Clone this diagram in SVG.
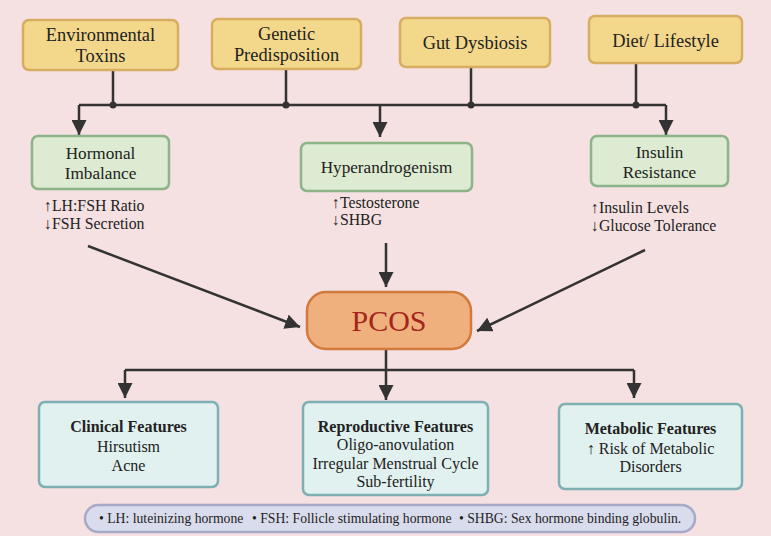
<svg xmlns="http://www.w3.org/2000/svg" width="771" height="536" viewBox="0 0 771 536">
<defs>
<marker id="ah" viewBox="0 0 10 10" refX="10" refY="5" markerWidth="6" markerHeight="6" orient="auto" markerUnits="strokeWidth">
<path d="M0,0 L10,5 L0,10 z" fill="#333"/>
</marker>
<style>
text{font-family:"Liberation Serif","DejaVu Serif",serif;fill:#222;text-anchor:middle}
.top rect{fill:#f3d88b;stroke:#d6ad62;stroke-width:2.5}
.mid rect{fill:#dcebd1;stroke:#8db489;stroke-width:2.5}
.bot rect{fill:#e1f1ef;stroke:#7eb0b3;stroke-width:2.5}
.t17{font-size:18.4px}
.t16{font-size:17.2px}
.sub{font-size:15.8px;text-anchor:start}
.h{font-size:16px;font-weight:bold}
.b{font-size:16px}
.lg{font-size:13.7px;text-anchor:start}
.ln{fill:none;stroke:#333;stroke-width:2.5}
.ar{fill:none;stroke:#333;stroke-width:2.5;marker-end:url(#ah)}
</style>
</defs>
<rect width="771" height="536" fill="#f5e1e1"/>

<g id="connectors">
<path class="ln" d="M113,70 V105 M286,70 V105 M471,67 V105 M636,63 V105 M79,105 H666"/>
<circle cx="113" cy="105" r="3.5" fill="#333"/>
<circle cx="286" cy="105" r="3.5" fill="#333"/>
<circle cx="471" cy="105" r="3.5" fill="#333"/>
<circle cx="636" cy="105" r="3.5" fill="#333"/>
<path class="ar" d="M79,105 V135"/>
<path class="ar" d="M380,105 V137"/>
<path class="ar" d="M666,105 V135"/>
<path class="ar" d="M88,246 L300,327"/>
<path class="ar" d="M386,243 V287"/>
<path class="ar" d="M645,250 L477,331"/>
<path class="ln" d="M386,349 V370 M125,370 H634"/>
<path class="ar" d="M125,370 V398"/>
<path class="ar" d="M386,370 V400"/>
<path class="ar" d="M634,370 V398"/>
</g>

<g id="env" class="top"><rect x="23" y="20" width="155" height="50" rx="6"/><text class="t17" x="100.5" y="41">Environmental</text><text class="t17" x="100.5" y="62">Toxins</text></g>
<g id="gen" class="top"><rect x="212" y="19" width="149" height="50" rx="6"/><text class="t17" x="286.5" y="40">Genetic</text><text class="t17" x="286.5" y="61">Predisposition</text></g>
<g id="gut" class="top"><rect x="400" y="18" width="150" height="49" rx="6"/><text class="t17" x="475" y="49">Gut Dysbiosis</text></g>
<g id="diet" class="top"><rect x="589" y="16" width="153" height="47" rx="6"/><text class="t17" x="665.5" y="47">Diet/ Lifestyle</text></g>

<g id="hormonal" class="mid"><rect x="32" y="136" width="137" height="53" rx="6"/><text class="t16" x="100.5" y="159">Hormonal</text><text class="t16" x="100.5" y="179">Imbalance</text>
<text class="sub" x="44" y="211">↑LH:FSH Ratio</text><text class="sub" x="44" y="229">↓FSH Secretion</text></g>
<g id="hyper" class="mid"><rect x="301" y="143" width="171" height="48" rx="6"/><text class="t16" x="386.5" y="173">Hyperandrogenism</text>
<text class="sub" x="332" y="208">↑Testosterone</text><text class="sub" x="332" y="225">↓SHBG</text></g>
<g id="insulin" class="mid"><rect x="591" y="136" width="137" height="50" rx="6"/><text class="t16" x="659.5" y="158">Insulin</text><text class="t16" x="659.5" y="178">Resistance</text>
<text class="sub" x="591" y="213">↑Insulin Levels</text><text class="sub" x="591" y="231">↓Glucose Tolerance</text></g>

<g id="pcos"><rect x="307" y="292" width="164" height="57" rx="19" fill="#f0b07e" stroke="#d27a3b" stroke-width="2.5"/><text x="389" y="331" font-size="30" style="fill:#a3261a">PCOS</text></g>

<g id="clinical" class="bot"><rect x="39" y="402" width="179" height="85" rx="6"/><text class="h" x="128.5" y="432">Clinical Features</text><text class="b" x="128.5" y="452">Hirsutism</text><text class="b" x="128.5" y="471">Acne</text></g>
<g id="repro" class="bot"><rect x="303" y="402" width="185" height="93" rx="6"/><text class="h" x="395.5" y="432">Reproductive Features</text><text class="b" x="395.5" y="450">Oligo-anovulation</text><text class="b" x="395.5" y="469">Irregular Menstrual Cycle</text><text class="b" x="395.5" y="487">Sub-fertility</text></g>
<g id="metabolic" class="bot"><rect x="559" y="404" width="183" height="85" rx="6"/><text class="h" x="650.5" y="434">Metabolic Features</text><text class="b" x="650.5" y="454">↑ Risk of Metabolic</text><text class="b" x="650.5" y="472">Disorders</text></g>

<g id="legend"><rect x="85" y="505" width="610" height="27" rx="13.5" fill="#d9dcec" stroke="#a7a9c6" stroke-width="2.5"/>
<text class="lg" x="99" y="523">• LH: luteinizing hormone</text>
<text class="lg" x="252" y="523">• FSH: Follicle stimulating hormone</text>
<text class="lg" x="459" y="523">• SHBG: Sex hormone binding globulin.</text></g>
</svg>
